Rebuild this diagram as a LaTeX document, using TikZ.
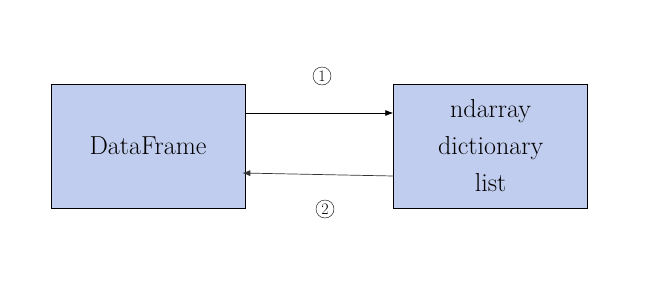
\documentclass[tikz,border=0pt]{standalone}
\usetikzlibrary{positioning, arrows.meta, calc}
\definecolor{boxblue}{HTML}{C1CDEE}

\begin{document}
\begin{tikzpicture}[
  x=1pt, y=1pt,
  node distance=148pt,
  databox/.style={
    draw=black,
    line width=0.6pt,
    fill=boxblue,
    rectangle,
    minimum width=194pt,
    minimum height=124pt,
    align=center,
    inner sep=0pt,
    font=\fontsize{26}{37}\selectfont
  },
  convarrow/.style={-{Latex[length=8pt,width=6pt]}, line width=0.7pt},
  steplabel/.style={circle, draw, line width=0.4pt, minimum size=18pt,
    inner sep=0pt, font=\fontsize{16}{16}\selectfont}
]
  \useasboundingbox (0,0) rectangle (670,285);

  % --- the two boxes ---
  \node[databox]              (df)   at (148,139) {DataFrame};
  \node[databox, right=of df] (objs) {ndarray\\dictionary\\list};

  % --- conversion arrows ---
  \draw[convarrow] ($(df.east)+(0,33)$) -- ($(objs.west)+(0,33)$);
  \draw[convarrow, black!80] ($(objs.west)+(0,-30)$) -- ($(df.east)+(-3,-27)$);

  % step numbers
  \node[steplabel] (one) at (322,209) {1};
  \node[steplabel] (two) at (325,76)  {2};
\end{tikzpicture}
\end{document}
